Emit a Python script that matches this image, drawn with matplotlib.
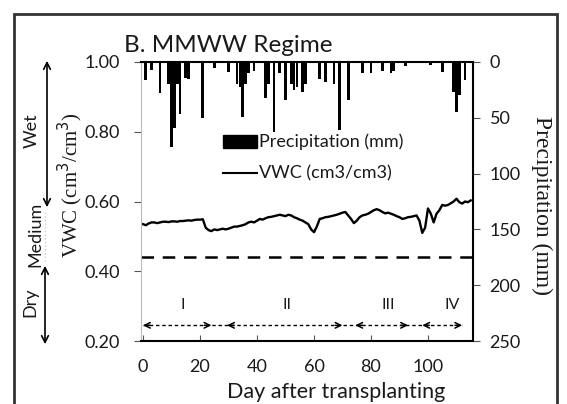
import matplotlib
matplotlib.use("Agg")
import matplotlib.pyplot as plt
from matplotlib.patches import Rectangle, FancyArrowPatch
from matplotlib.lines import Line2D

# ---------------- data ----------------
vwc_days = list(range(0, 116))
vwc_values = [0.535, 0.532, 0.537, 0.540, 0.540, 0.538, 0.540, 0.542, 0.542, 0.541,
              0.543, 0.543, 0.542, 0.544, 0.544, 0.545, 0.546, 0.545, 0.547, 0.548,
              0.548, 0.549, 0.525, 0.518, 0.515, 0.520, 0.518, 0.520, 0.522, 0.520,
              0.522, 0.525, 0.528, 0.528, 0.530, 0.532, 0.535, 0.540, 0.542, 0.540,
              0.545, 0.550, 0.548, 0.552, 0.555, 0.556, 0.558, 0.560, 0.562, 0.560,
              0.558, 0.562, 0.560, 0.555, 0.552, 0.548, 0.545, 0.540, 0.535, 0.520,
              0.512, 0.528, 0.550, 0.552, 0.555, 0.556, 0.558, 0.560, 0.562, 0.565,
              0.568, 0.570, 0.560, 0.550, 0.538, 0.545, 0.555, 0.560, 0.562, 0.565,
              0.570, 0.575, 0.578, 0.575, 0.570, 0.566, 0.568, 0.565, 0.562, 0.558,
              0.555, 0.550, 0.552, 0.555, 0.556, 0.558, 0.560, 0.545, 0.510, 0.525,
              0.580, 0.565, 0.540, 0.565, 0.575, 0.590, 0.588, 0.590, 0.595, 0.600,
              0.608, 0.598, 0.594, 0.600, 0.598, 0.603]

precip_days = [1, 3, 6, 9, 10, 11, 12, 13, 15, 16, 21, 25, 30, 33, 34, 35, 36, 37,
               39, 43, 44, 46, 48, 50, 52, 53, 54, 56, 57, 62, 64, 67, 69, 72, 77,
               80, 84, 87, 88, 92, 101, 105, 109, 110, 111, 113]
precip_mm = [16, 7, 28, 20, 76, 59, 20, 47, 14, 15, 50, 5, 9, 20, 22, 49, 20, 10,
             8, 32, 20, 63, 10, 34, 20, 25, 22, 27, 20, 15, 18, 20, 61, 34, 10,
             10, 8, 10, 8, 4, 3, 9, 27, 45, 30, 16]

threshold_vwc = 0.44
stage_labels = ["I", "II", "III", "IV"]
stage_starts = [0, 29.5, 74.5, 98]
stage_ends = [24, 70, 93, 112]
stage_label_days = [14, 50.5, 86, 108.5]

left_ticks = [0.20, 0.40, 0.60, 0.80, 1.00]
right_ticks = [0, 50, 100, 150, 200, 250]
x_ticks = [0, 20, 40, 60, 80, 100]

# ---------------- figure ----------------
W, H = 567, 404
fig = plt.figure(figsize=(W / 100, H / 100), dpi=100)
sans = ["Lato", "DejaVu Sans"]
serif = ["Liberation Serif", "DejaVu Serif"]
TXT = "#1a1a1a"

ax = fig.add_axes([141 / W, 1 - 341 / H, (473 - 141) / W, (341 - 62) / H])
ax.set_xlim(-0.7, 115.8)
ax.set_ylim(0.20, 1.00)

ax.plot(vwc_days, vwc_values, color="black", lw=1.7)
ax.axhline(threshold_vwc, color="black", lw=1.8, dashes=(5, 3.5))

# stage arrows
y_arr = 0.245
ax.plot([0, stage_ends[-1]], [y_arr, y_arr], color="black", lw=1.0, dashes=(2.5, 2))
for s, e in zip(stage_starts, stage_ends):
    ax.annotate("", xy=(s, y_arr), xytext=(s + 2.5, y_arr),
                arrowprops=dict(arrowstyle="->", lw=1.1, color="black",
                                shrinkA=0, shrinkB=0))
    ax.annotate("", xy=(e, y_arr), xytext=(e - 2.5, y_arr),
                arrowprops=dict(arrowstyle="->", lw=1.1, color="black",
                                shrinkA=0, shrinkB=0))
for lab, d in zip(stage_labels, stage_label_days):
    ax.text(d, 0.302, lab, ha="center", va="center", fontsize=11.5,
            family=sans, color=TXT)

ax.set_yticks(left_ticks)
ax.set_yticklabels([f"{v:.2f}" for v in left_ticks], family=sans, fontsize=13,
                   color=TXT)
ax.set_xticks(x_ticks)
ax.set_xticklabels([str(v) for v in x_ticks], family=sans, fontsize=13, color=TXT)
ax.tick_params(axis="y", direction="out", length=5, pad=10, color="#555555")
ax.tick_params(axis="x", direction="in", length=4, pad=13, color="#555555")
ax.spines["left"].set_color("#bbbbbb")
ax.spines["bottom"].set_linewidth(1.5)
ax.spines["top"].set_linewidth(1.5)
ax.spines["right"].set_visible(False)

ax2 = ax.twinx()
ax2.set_ylim(250, 0)
ax2.bar(precip_days, precip_mm, width=0.95, color="black", align="center")
ax2.set_yticks(right_ticks)
ax2.set_yticklabels([str(v) for v in right_ticks], family=sans, fontsize=13,
                    color=TXT)
ax2.tick_params(axis="y", direction="out", length=5, pad=7, color="#555555")
for sp in ["left", "top", "bottom"]:
    ax2.spines[sp].set_visible(False)
ax2.spines["right"].set_linewidth(1.5)

# labels
fig.text(124 / W, 1 - 45 / H, "B. MMWW Regime", ha="left", va="center",
         fontsize=17.5, family=sans, color=TXT)
fig.text(336 / W, 1 - 392 / H, "Day after transplanting", ha="center",
         va="center", fontsize=15.5, family=sans, color=TXT)
fig.text(70 / W, 1 - 185 / H, r"VWC (cm$^3$/cm$^3$)", ha="center", va="center",
         rotation=90, fontsize=15, family=serif, color=TXT)
fig.text(542 / W, 1 - 206 / H, "Precipitation (mm)", ha="center", va="center",
         rotation=-90, fontsize=17, family=serif, color=TXT)

# legend (manual)
fig.patches.append(Rectangle((223 / W, 1 - 148 / H), 34 / W, 13 / H,
                             transform=fig.transFigure, color="black"))
fig.lines.append(Line2D([223 / W, 257 / W], [1 - 173 / H, 1 - 173 / H],
                        transform=fig.transFigure, color="black", lw=1.5))
fig.text(259 / W, 1 - 142 / H, "Precipitation (mm)", ha="left", va="center",
         fontsize=13, family=sans, color=TXT)
fig.text(259 / W, 1 - 173 / H, "VWC (cm3/cm3)", ha="left", va="center",
         fontsize=13, family=sans, color=TXT)

# moisture class arrows
fig.patches.append(FancyArrowPatch(
    (47 / W, 1 - 210 / H), (47 / W, 1 - 58 / H), transform=fig.transFigure,
    arrowstyle="<->", mutation_scale=12, lw=1.2, color="black"))
fig.patches.append(FancyArrowPatch(
    (45 / W, 1 - 347 / H), (45 / W, 1 - 263 / H), transform=fig.transFigure,
    arrowstyle="<->", mutation_scale=12, lw=1.2, color="black"))
fig.lines.append(Line2D([45 / W, 45 / W], [1 - 212 / H, 1 - 262 / H],
                        transform=fig.transFigure, color="#cccccc", lw=1,
                        ls=":"))
fig.text(32 / W, 1 - 131 / H, "Wet", rotation=90, ha="center", va="center",
         fontsize=13, family=sans, color=TXT)
fig.text(35 / W, 1 - 234 / H, "Medium", rotation=90, ha="center", va="center",
         fontsize=13, family=sans, color=TXT)
fig.text(30 / W, 1 - 302 / H, "Dry", rotation=90, ha="center", va="center",
         fontsize=13, family=sans, color=TXT)

# figure frame
fig.patches.append(Rectangle((14 / W, -0.1), (557 - 14) / W, (1 - 14 / H) + 0.1,
                             transform=fig.transFigure, fill=False,
                             edgecolor="#333333", lw=2))

fig.savefig("out.png", dpi=100)
